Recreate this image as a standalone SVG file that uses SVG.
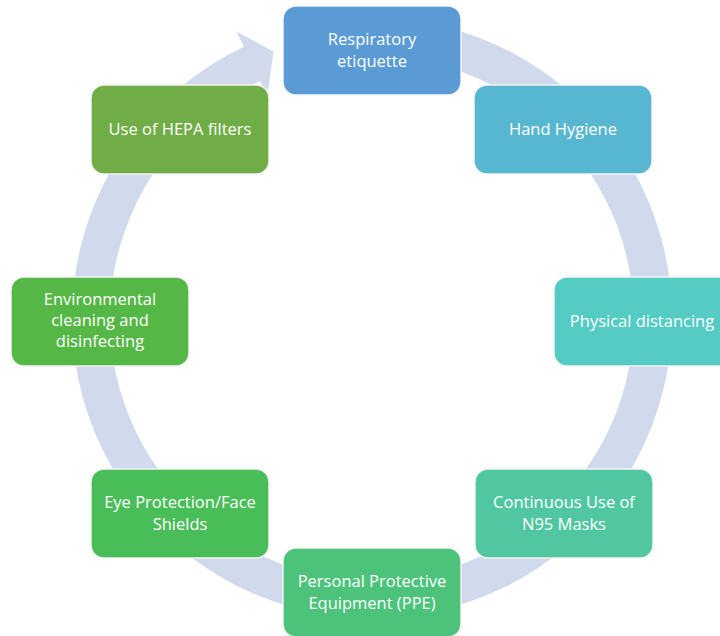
<svg xmlns="http://www.w3.org/2000/svg" width="720" height="636" viewBox="0 0 720 636">
  <style>
    .box { stroke: #F4F4F4; stroke-width: 1.5; }
    .lbl { font-family: "Open Sans", "Noto Sans", "Liberation Sans", sans-serif; font-size: 16.5px; fill: #FFFFFF; text-anchor: middle; }
    .ring { fill: #D1DAEC; }
  </style>
  <rect width="720" height="636" fill="#FFFFFF"/>

  <!-- circular arrow running clockwise, head pointing at the top step -->
  <g id="connectors">
    <path class="ring" d="M 372 18 A 300 300 0 1 1 243.8 46.8 L 236.5 31.4 L 273.5 51.6 L 267.3 96.5 L 260 81.1 A 262 262 0 1 0 372 56 Z"/>
  </g>

  <g id="respiratory-etiquette">
    <rect class="box" x="283" y="6" width="178" height="89" rx="13" fill="#5B9BD5"/>
    <text class="lbl" x="372" y="45">Respiratory</text>
    <text class="lbl" x="372" y="66.5">etiquette</text>
  </g>

  <g id="hand-hygiene">
    <rect class="box" x="474" y="85" width="178" height="89" rx="13" fill="#58B7D0"/>
    <text class="lbl" x="563" y="134.5">Hand Hygiene</text>
  </g>

  <g id="physical-distancing">
    <rect class="box" x="554" y="277" width="178" height="89" rx="13" fill="#54CCC4"/>
    <text class="lbl" x="642" y="326.5">Physical distancing</text>
  </g>

  <g id="n95-masks">
    <rect class="box" x="475" y="469" width="178" height="89" rx="13" fill="#50C7A0"/>
    <text class="lbl" x="564" y="508">Continuous Use of</text>
    <text class="lbl" x="564" y="529.5">N95 Masks</text>
  </g>

  <g id="ppe">
    <rect class="box" x="283" y="548" width="178" height="89" rx="13" fill="#4CC27B"/>
    <text class="lbl" x="372" y="587">Personal Protective</text>
    <text class="lbl" x="372" y="608.5">Equipment (PPE)</text>
  </g>

  <g id="eye-protection">
    <rect class="box" x="91" y="469" width="178" height="89" rx="13" fill="#49BD58"/>
    <text class="lbl" x="180" y="508">Eye Protection/Face</text>
    <text class="lbl" x="180" y="529.5">Shields</text>
  </g>

  <g id="environmental-cleaning">
    <rect class="box" x="11" y="277" width="178" height="89" rx="13" fill="#55B746"/>
    <text class="lbl" x="100" y="305">Environmental</text>
    <text class="lbl" x="100" y="326">cleaning and</text>
    <text class="lbl" x="100" y="347">disinfecting</text>
  </g>

  <g id="hepa-filters">
    <rect class="box" x="91" y="85" width="178" height="89" rx="13" fill="#70AD47"/>
    <text class="lbl" x="180" y="134.5">Use of HEPA filters</text>
  </g>
</svg>
